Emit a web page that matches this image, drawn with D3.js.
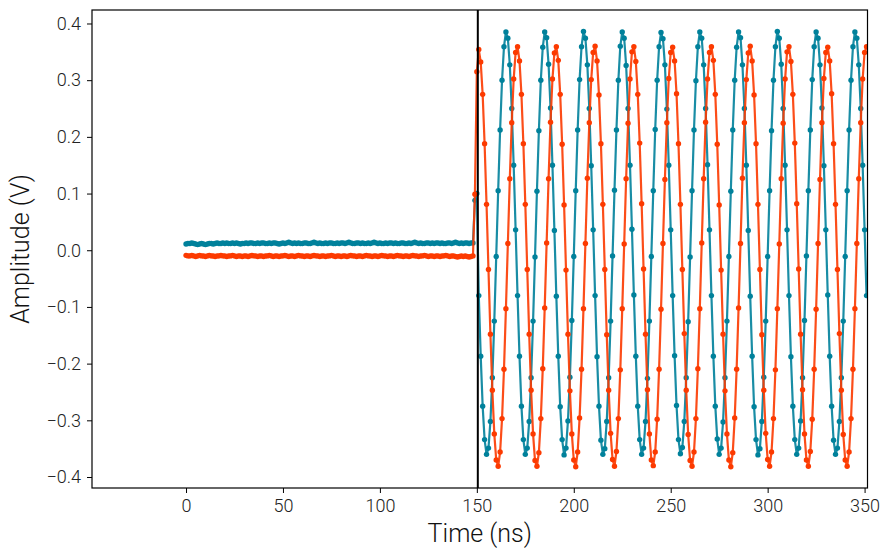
<!DOCTYPE html>
<html>
<head>
<meta charset="utf-8">
<script src="https://cdn.jsdelivr.net/npm/d3@7/dist/d3.min.js"></script>
<style>
  html, body { margin: 0; padding: 0; background: #fff; }
  svg { display: block; }
  .tick text { font-family: Roboto, "DejaVu Sans", sans-serif; font-weight: 300; font-size: 18px; fill: #222; }
  .lbl { font-family: Roboto, "DejaVu Sans", sans-serif; font-weight: 300; font-size: 25px; fill: #111; }
</style>
</head>
<body>
<svg id="chart" width="893" height="556"></svg>
<script>
// ---- data ----
const sampleStartNs = 0;      // first sample time
const sampleStepNs = 1;       // sampling interval (ns)
const markerTimeNs = 150.5;   // vertical marker line

const xTicks = [0, 50, 100, 150, 200, 250, 300, 350];
const yTicks = [-0.4, -0.3, -0.2, -0.1, 0.0, 0.1, 0.2, 0.3, 0.4];

const tealBaseline = [
  0.011,0.012,0.012,0.013,0.012,0.011,0.010,0.011,0.012,0.011,
  0.010,0.011,0.012,0.012,0.011,0.012,0.013,0.012,0.012,0.013,
  0.012,0.013,0.012,0.012,0.013,0.012,0.013,0.012,0.011,0.012,
  0.012,0.013,0.012,0.013,0.013,0.012,0.012,0.013,0.012,0.013,
  0.013,0.012,0.012,0.013,0.012,0.013,0.013,0.012,0.011,0.012,
  0.013,0.012,0.013,0.014,0.013,0.012,0.013,0.012,0.013,0.012,
  0.012,0.013,0.013,0.012,0.012,0.013,0.014,0.013,0.012,0.013,
  0.012,0.012,0.013,0.012,0.013,0.013,0.012,0.012,0.013,0.012,
  0.013,0.013,0.012,0.013,0.014,0.013,0.012,0.012,0.013,0.013,
  0.012,0.013,0.012,0.012,0.013,0.012,0.013,0.014,0.013,0.012,
  0.013,0.012,0.012,0.013,0.012,0.013,0.013,0.012,0.013,0.012,
  0.012,0.013,0.013,0.012,0.012,0.013,0.012,0.013,0.014,0.013,
  0.012,0.013,0.012,0.012,0.013,0.013,0.012,0.013,0.012,0.013,
  0.013,0.012,0.013,0.012,0.012,0.013,0.013,0.012,0.013,0.014,
  0.013,0.012,0.013,0.012,0.013,0.013,0.012,0.013,0.013
];
const tealBurst = [
  0.088,0.100,
  -0.080,-0.187,-0.275,-0.334,-0.360,-0.349,-0.302,-0.225,-0.125,
  -0.011,0.105,0.212,0.300,0.359,0.385,0.374,0.327,0.250,0.150,0.036,-0.080,-0.187,-0.275,-0.334,-0.360,-0.349,-0.302,-0.225,-0.125,
  -0.012,0.104,0.211,0.300,0.358,0.385,0.375,0.328,0.251,0.150,0.035,-0.081,-0.187,-0.276,-0.334,-0.361,-0.349,-0.301,-0.224,-0.124,
  -0.011,0.105,0.212,0.301,0.359,0.386,0.374,0.327,0.250,0.149,0.036,-0.080,-0.188,-0.275,-0.335,-0.360,-0.350,-0.302,-0.225,-0.125,
  -0.010,0.106,0.212,0.300,0.360,0.385,0.374,0.326,0.250,0.150,0.037,-0.079,-0.187,-0.275,-0.334,-0.360,-0.349,-0.302,-0.226,-0.125,
  -0.011,0.105,0.213,0.300,0.359,0.384,0.373,0.327,0.249,0.150,0.036,-0.080,-0.186,-0.274,-0.334,-0.359,-0.348,-0.302,-0.225,-0.126,
  -0.012,0.105,0.212,0.299,0.359,0.385,0.374,0.327,0.250,0.151,0.036,-0.080,-0.187,-0.275,-0.333,-0.360,-0.349,-0.303,-0.225,-0.125,
  -0.011,0.104,0.212,0.300,0.358,0.385,0.375,0.327,0.250,0.150,0.035,-0.081,-0.187,-0.276,-0.334,-0.361,-0.350,-0.302,-0.224,-0.125,
  -0.011,0.105,0.211,0.300,0.359,0.386,0.374,0.328,0.250,0.150,0.036,-0.080,-0.188,-0.275,-0.334,-0.360,-0.349,-0.301,-0.225,-0.124,
  -0.010,0.105,0.212,0.301,0.359,0.385,0.374,0.327,0.251,0.149,0.036,-0.079,-0.187,-0.275,-0.335,-0.360,-0.349,-0.302,-0.225,-0.125,
  -0.011,0.105,0.212,0.300,0.359,0.385,0.374,0.327,0.250,0.150,0.036,-0.080
];

const orangeBaseline = [
  -0.009,-0.010,-0.010,-0.009,-0.010,-0.011,-0.010,-0.009,-0.010,-0.010,
  -0.011,-0.010,-0.009,-0.010,-0.010,-0.011,-0.010,-0.010,-0.009,-0.010,
  -0.010,-0.011,-0.010,-0.010,-0.009,-0.010,-0.011,-0.010,-0.010,-0.011,
  -0.010,-0.010,-0.011,-0.010,-0.009,-0.010,-0.010,-0.011,-0.010,-0.010,
  -0.011,-0.010,-0.010,-0.009,-0.010,-0.011,-0.010,-0.010,-0.011,-0.010,
  -0.010,-0.009,-0.010,-0.011,-0.010,-0.010,-0.011,-0.010,-0.009,-0.010,
  -0.010,-0.011,-0.010,-0.010,-0.011,-0.010,-0.009,-0.010,-0.010,-0.011,
  -0.010,-0.010,-0.011,-0.010,-0.010,-0.009,-0.010,-0.011,-0.010,-0.010,
  -0.011,-0.010,-0.010,-0.011,-0.010,-0.009,-0.010,-0.010,-0.011,-0.010,
  -0.010,-0.011,-0.010,-0.009,-0.010,-0.010,-0.011,-0.010,-0.010,-0.011,
  -0.010,-0.009,-0.010,-0.010,-0.011,-0.010,-0.010,-0.011,-0.010,-0.009,
  -0.010,-0.010,-0.011,-0.010,-0.010,-0.011,-0.010,-0.009,-0.010,-0.010,
  -0.011,-0.010,-0.010,-0.009,-0.010,-0.011,-0.010,-0.010,-0.011,-0.010,
  -0.010,-0.011,-0.010,-0.010,-0.009,-0.010,-0.011,-0.010,-0.010,-0.011,
  -0.012,-0.011,-0.010,-0.011,-0.010,-0.011,-0.012,-0.011,-0.010
];
const orangeBurst = [
  0.099,0.315,0.354,0.332,
  0.275,0.188,0.081,-0.034,-0.148,-0.247,-0.324,
  -0.370,-0.381,-0.356,-0.297,-0.210,-0.103,0.012,0.126,0.225,0.302,0.349,0.359,0.334,0.275,0.188,0.081,-0.034,-0.148,-0.247,-0.324,
  -0.371,-0.381,-0.357,-0.297,-0.209,-0.102,0.013,0.126,0.226,0.302,0.348,0.359,0.335,0.275,0.187,0.080,-0.035,-0.148,-0.248,-0.324,
  -0.370,-0.382,-0.356,-0.296,-0.210,-0.103,0.012,0.127,0.225,0.301,0.349,0.360,0.334,0.274,0.188,0.081,-0.034,-0.149,-0.247,-0.323,
  -0.369,-0.381,-0.355,-0.297,-0.211,-0.103,0.011,0.126,0.224,0.302,0.350,0.359,0.333,0.275,0.189,0.082,-0.033,-0.148,-0.246,-0.324,
  -0.370,-0.380,-0.356,-0.298,-0.210,-0.104,0.012,0.125,0.225,0.303,0.349,0.358,0.334,0.276,0.188,0.081,-0.034,-0.147,-0.247,-0.325,
  -0.371,-0.381,-0.356,-0.297,-0.209,-0.103,0.013,0.126,0.226,0.302,0.349,0.359,0.335,0.275,0.187,0.080,-0.035,-0.148,-0.248,-0.324,
  -0.370,-0.382,-0.357,-0.296,-0.210,-0.102,0.012,0.127,0.225,0.301,0.348,0.360,0.334,0.274,0.188,0.081,-0.034,-0.149,-0.247,-0.323,
  -0.369,-0.381,-0.356,-0.297,-0.211,-0.103,0.011,0.126,0.224,0.302,0.350,0.359,0.333,0.275,0.189,0.082,-0.033,-0.148,-0.246,-0.324,
  -0.370,-0.381,-0.355,-0.298,-0.210,-0.104,0.012,0.125,0.225,0.303,0.349,0.358,0.334,0.276,0.188,0.081,-0.034,-0.147,-0.247,-0.325,
  -0.370,-0.381,-0.356,-0.297,-0.210,-0.103,0.012,0.126,0.225,0.302,0.349,0.359
];

const seriesI = tealBaseline.concat(tealBurst);
const seriesQ = orangeBaseline.concat(orangeBurst);

// ---- layout ----
const W = 893, H = 556;
const plot = { left: 92, right: 867.5, top: 10, bottom: 488 };

const x = d3.scaleLinear().domain([-48.5, 351.5]).range([plot.left, plot.right]);
const y = d3.scaleLinear().domain([-0.4194, 0.4238]).range([plot.bottom, plot.top]);

const svg = d3.select("#chart");

svg.append("defs").append("clipPath").attr("id", "clip")
  .append("rect")
  .attr("x", plot.left).attr("y", plot.top)
  .attr("width", plot.right - plot.left).attr("height", plot.bottom - plot.top);

const toPts = arr => arr.map((v, i) => [sampleStartNs + i * sampleStepNs, v]);

const series = [
  { name: "I", color: "#00819b", pts: toPts(seriesI) },
  { name: "Q", color: "#fc3a00", pts: toPts(seriesQ) }
];

const line = d3.line().x(d => x(d[0])).y(d => y(d[1]));
const g = svg.append("g").attr("clip-path", "url(#clip)");

series.forEach(s => {
  const sg = g.append("g");
  sg.append("path")
    .datum(s.pts)
    .attr("fill", "none")
    .attr("stroke", s.color)
    .attr("stroke-opacity", 0.9)
    .attr("stroke-width", 2.2)
    .attr("stroke-linejoin", "round")
    .attr("d", line);
  sg.selectAll("circle").data(s.pts).enter().append("circle")
    .attr("cx", d => x(d[0]))
    .attr("cy", d => y(d[1]))
    .attr("r", 2.7)
    .attr("fill", s.color);
});

// vertical marker
g.append("line")
  .attr("x1", x(markerTimeNs)).attr("x2", x(markerTimeNs))
  .attr("y1", plot.top).attr("y2", plot.bottom)
  .attr("stroke", "#000").attr("stroke-width", 2);

// axes
const fmtY = v => d3.format(".1f")(v).replace("-", "\u2212");
const xAxis = d3.axisBottom(x).tickValues(xTicks).tickSize(5).tickPadding(6).tickFormat(d3.format("d"));
const yAxis = d3.axisLeft(y).tickValues(yTicks).tickSize(5).tickPadding(6).tickFormat(fmtY);

const gx = svg.append("g").attr("transform", `translate(0,${plot.bottom})`).call(xAxis);
const gy = svg.append("g").attr("transform", `translate(${plot.left},0)`).call(yAxis);
[gx, gy].forEach(a => { a.select(".domain").remove(); a.selectAll(".tick line").attr("stroke", "#000"); });

// frame
svg.append("rect")
  .attr("x", plot.left).attr("y", plot.top)
  .attr("width", plot.right - plot.left).attr("height", plot.bottom - plot.top)
  .attr("fill", "none").attr("stroke", "#000").attr("stroke-width", 1.2);

// labels
svg.append("text").attr("class", "lbl")
  .attr("x", (plot.left + plot.right) / 2).attr("y", 542)
  .attr("text-anchor", "middle").text("Time (ns)");
svg.append("text").attr("class", "lbl")
  .attr("transform", `translate(29,${(plot.top + plot.bottom) / 2}) rotate(-90)`)
  .attr("text-anchor", "middle").text("Amplitude (V)");
</script>
</body>
</html>
